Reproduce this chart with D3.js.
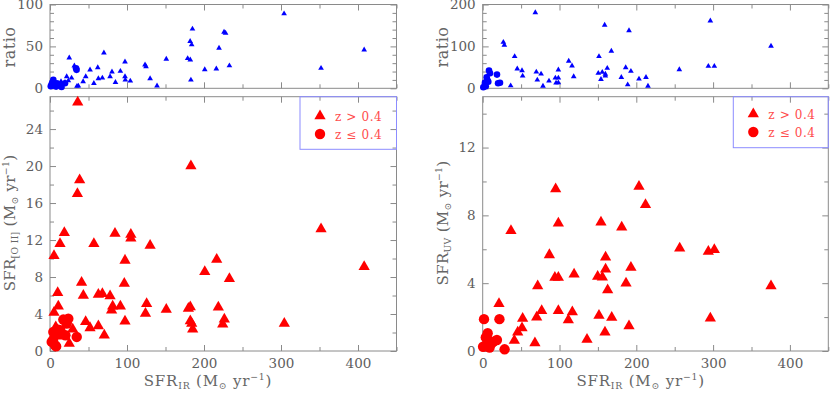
<!DOCTYPE html>
<html>
<head>
<meta charset="utf-8">
<script src="https://cdn.jsdelivr.net/npm/d3@7"></script>
<style>
  body { margin: 0; background: #fff; }
  svg { display: block; font-family: "DejaVu Serif", serif; }
  .tick line { stroke: #8a8a8a; }
  .tick text { fill: #5e5e5e; font-size: 13.5px; font-family: "DejaVu Serif", serif; }
</style>
</head>
<body>
<svg id="chart" width="830" height="393"></svg>
<script>
// --- left panel: SFR[O II] vs SFR_IR ---
const oiiHigh = [
  [36, 26.9], [38.5, 18.5], [35.6, 17], [183, 20],
  [18.6, 12.8], [84.4, 12.7], [105, 12.6], [105, 12.2], [13, 11.6], [57, 11.6], [130, 11.4],
  [5.2, 10.3], [97.4, 9.8], [216.5, 9.9], [352, 13.2], [408, 9.1], [201, 8.56], [233, 7.8],
  [41, 7.4], [96.5, 7.3], [10, 6.3], [43.3, 6.0], [62.8, 6.1], [68, 6.2], [78, 5.95],
  [10.8, 4.85], [81.4, 4.85], [80, 4.4], [91.4, 4.85], [125.5, 5.1], [124, 4.05], [151, 4.5],
  [179.7, 4.6], [182.2, 4.77], [218.6, 4.74], [5.2, 4.16], [182.2, 3.25], [184, 2.97],
  [185.3, 2.35], [226.4, 3.44], [224.3, 2.9], [304.3, 2.97], [97.4, 3.22], [46.3, 3.15],
  [52, 2.5], [62.8, 2.7], [70.5, 1.7], [25, 0.8], [29.5, 2.35], [7.5, 2.6], [12, 1.6]
];
const oiiLow = [
  [4.3, 2.06], [10.8, 2.3], [17.3, 3.4], [23.8, 3.5], [21.7, 2.97], [20, 1.7], [34.7, 1.52],
  [2.2, 0.98], [6.5, 0.62], [13.4, 2.24], [4, 1.2], [8, 0.5]
];
const ratioOiiHigh = [
  [304, 89], [185, 70.8], [226, 67], [228, 66], [182, 56], [184, 52], [219.5, 48], [408, 46],
  [70, 42.4], [25, 36.4], [178.8, 35.6], [182.2, 34], [151, 34.8], [97.4, 31.6], [31.6, 26.8],
  [123.4, 28], [124.7, 26], [233, 27], [352, 24], [201, 22.3], [216, 23.2], [52, 22], [62, 24.7],
  [80.5, 19.6], [91.4, 20.4], [78, 14], [97.4, 14], [97.8, 10], [104.3, 8.8], [62.8, 11.6],
  [68, 12.4], [46.4, 14], [43, 8], [57, 6], [85, 7.2], [130, 11.6], [139, 3], [183, 10],
  [21.7, 14], [28, 12.4], [36.8, 2.8], [35, 2.5], [14.3, 8], [19.5, 7.2], [23.8, 9.1], [10, 5], [5, 4]
];
const ratioOiiLow = [
  [33.8, 24], [34.5, 22], [4.3, 10], [3, 7], [2, 4.5], [1, 2.5], [6, 3], [13, 4], [19.5, 6],
  [9, 6], [8, 2], [15, 1.5]
];

// --- right panel: SFR_UV vs SFR_IR ---
const uvHigh = [
  [95, 9.55], [203.5, 9.7], [212, 8.62], [98.5, 7.54], [154, 7.6], [181, 7.3], [36.8, 7.09],
  [256.5, 6.06], [293.8, 5.87], [301.6, 5.97], [86.8, 5.67], [160, 5.53], [160, 4.82], [193, 4.92],
  [119, 4.53], [94, 4.34], [98.5, 4.34], [149.7, 4.39], [155.8, 4.35], [186.6, 4.0], [162.7, 3.6],
  [71.6, 3.84], [375.4, 3.84], [21.2, 2.78], [76.8, 2.38], [98.5, 2.38], [116.7, 2.3], [70.3, 1.99],
  [52, 1.91], [111.5, 1.83], [151.4, 2.09], [168, 1.97], [296.4, 1.93], [190.5, 1.48], [51.2, 1.35],
  [45.6, 1.1], [159.2, 1.1], [41.2, 0.62], [68, 0.47], [135.8, 0.68]
];
const uvLow = [
  [1.7, 1.88], [21.8, 1.88], [6.5, 1.05], [7, 0.65], [18.5, 0.65], [0.5, 0.25], [11.5, 0.45],
  [28.5, 0.1], [3, 0.3], [14, 0.55], [9, 0.2], [4, 0.8]
];
const ratioUvHigh = [
  [68.5, 180.8], [158.8, 151], [190.5, 137.6], [296.4, 161], [375.4, 100.8], [26.9, 110], [28.2, 103],
  [41.6, 76], [167.5, 88.8], [151.4, 76], [112, 64.8], [116.3, 53.5], [256, 44.7], [293.8, 52.8],
  [301.6, 52.8], [45, 46.3], [51.2, 42.3], [52, 29.5], [69.8, 39], [76, 34.3], [71.1, 20],
  [98.5, 44], [94.6, 24.7], [98.5, 24.7], [95.5, 12.7], [98.5, 13.4], [118.5, 27.9], [86.3, 17.5],
  [78.5, 5.5], [36.4, 6.3], [150.5, 36], [155.7, 38.4], [159.7, 34], [159.7, 29.5], [162.2, 48],
  [154, 21.6], [186.2, 49.5], [193, 40.8], [180.5, 26.4], [203.5, 22.3], [212.6, 26.4],
  [188.8, 8.6], [215.2, 5.5]
];
const ratioUvLow = [
  [8.2, 42.3], [9.5, 36], [18.6, 32.7], [5.2, 26.4], [7.3, 15.8], [22.5, 13.4], [20, 12],
  [3, 14], [0.8, 2.4], [2.8, 8], [6, 20], [4, 5]
];

const legendLabels = ['z > 0.4', 'z \u2264 0.4'];

const svg = d3.select('#chart');
const triMain = d3.symbol().type(d3.symbolTriangle).size(55)();
const triSmall = d3.symbol().type(d3.symbolTriangle).size(14)();

function addAxis(g, axis, pos, vals, len, fmt) {
  g.append('g').attr('transform', pos)
    .call(axis.tickValues(vals).tickSizeInner(-len).tickSizeOuter(0).tickPadding(7).tickFormat(fmt || (() => '')))
    .call(a => a.select('.domain').remove());
}

function frame(g, x, y) {
  g.append('rect')
    .attr('x', x.range()[0]).attr('y', y.range()[1])
    .attr('width', x.range()[1] - x.range()[0]).attr('height', y.range()[0] - y.range()[1])
    .attr('fill', 'none').attr('stroke', '#8a8a8a').attr('stroke-width', 1);
}

function frameTicks(g, x, y, xMajor, xMinor, yMajor, yMinor, xLabels, yFmt) {
  const [x0, x1] = x.range(), [yb, yt] = y.range();
  addAxis(g, d3.axisBottom(x), `translate(0,${yb})`, xMajor, 6, xLabels ? d3.format('d') : null);
  addAxis(g, d3.axisBottom(x), `translate(0,${yb})`, xMinor, 4);
  addAxis(g, d3.axisTop(x), `translate(0,${yt})`, xMajor, 6);
  addAxis(g, d3.axisTop(x), `translate(0,${yt})`, xMinor, 4);
  addAxis(g, d3.axisLeft(y), `translate(${x0},0)`, yMajor, 6, yFmt);
  addAxis(g, d3.axisLeft(y), `translate(${x0},0)`, yMinor, 4);
  addAxis(g, d3.axisRight(y), `translate(${x1},0)`, yMajor, 6);
  addAxis(g, d3.axisRight(y), `translate(${x1},0)`, yMinor, 4);
}

function sfrLabel(sel, sub, fs) {
  const small = fs * 0.62;
  sel.append('tspan').text('SFR');
  sel.append('tspan').attr('font-size', small).attr('dy', 3).text(sub);
  sel.append('tspan').attr('dy', -3).text(' (M');
  sel.append('tspan').attr('font-size', small).attr('dy', 3).text('\u2299');
  sel.append('tspan').attr('dy', -3).text(' yr');
  sel.append('tspan').attr('font-size', small).attr('dy', -6).text('\u22121');
  sel.append('tspan').attr('dy', 6).text(')');
}

function panel(o) {
  const g = svg.append('g');
  const x = d3.scaleLinear().domain([0, 450]).range([o.x0, o.x1]);
  const yr = d3.scaleLinear().domain([0, o.rMax]).range([88.3, 4.5]);
  const ym = d3.scaleLinear().domain([0, o.yMax]).range([351, 96.7]);
  const fmt = d3.format('d');

  // ratio panel
  frameTicks(g, x, yr, d3.range(0, 451, 100), d3.range(50, 451, 100),
    o.rMajor, o.rMinor, false, fmt);
  frame(g, x, yr);
  g.append('g').selectAll('path').data(o.ratioHigh).join('path')
    .attr('d', triSmall).attr('fill', '#0000ff')
    .attr('transform', d => `translate(${x(d[0])},${yr(d[1])})`);
  g.append('g').selectAll('circle').data(o.ratioLow).join('circle')
    .attr('cx', d => x(d[0])).attr('cy', d => yr(d[1])).attr('r', 3.3).attr('fill', '#0000ff');
  g.append('text').attr('transform', `translate(${o.x0 - 35},47) rotate(-90)`)
    .attr('text-anchor', 'middle').attr('font-size', 16).attr('fill', '#666')
    .attr('letter-spacing', 0.5).text('ratio');

  // main panel
  frameTicks(g, x, ym, d3.range(0, 451, 100), d3.range(50, 451, 100),
    o.yMajor, o.yMinor, true, fmt);
  frame(g, x, ym);

  // legend box
  g.append('rect').attr('x', o.legX).attr('y', ym.range()[1])
    .attr('width', o.x1 - o.legX).attr('height', o.legB - ym.range()[1])
    .attr('fill', 'none').attr('stroke', '#8c8cff').attr('stroke-width', 1);

  g.append('g').selectAll('path').data(o.high).join('path')
    .attr('d', triMain).attr('fill', '#ff0000')
    .attr('transform', d => `translate(${x(d[0])},${ym(d[1])})`);
  g.append('g').selectAll('circle').data(o.low).join('circle')
    .attr('cx', d => x(d[0])).attr('cy', d => ym(d[1])).attr('r', 5.2).attr('fill', '#ff0000');

  // legend entries
  const lx = o.legX + 20;
  g.append('path').attr('d', triMain).attr('fill', '#ff0000')
    .attr('transform', `translate(${lx},${o.legY})`);
  g.append('circle').attr('cx', lx).attr('cy', o.legY + 18).attr('r', 5.2).attr('fill', '#ff0000');
  legendLabels.forEach((t, i) => {
    g.append('text').attr('x', lx + 15).attr('y', o.legY + 18 * i + 4.5)
      .attr('font-size', 12).attr('fill', '#ff4d4d').attr('letter-spacing', 0.6).text(t);
  });

  // axis titles
  const xt = g.append('text').attr('x', (o.x0 + 158)).attr('y', 386)
    .attr('text-anchor', 'middle').attr('font-size', 15).attr('fill', '#666').attr('letter-spacing', 0.8);
  sfrLabel(xt, 'IR', 15);
  const yt = g.append('text').attr('transform', `translate(${o.x0 - 35},223) rotate(-90)`)
    .attr('text-anchor', 'middle').attr('font-size', 15).attr('fill', '#666').attr('letter-spacing', 0.3);
  sfrLabel(yt, o.ySub, 15);
}

panel({
  x0: 50, x1: 396.5, rMax: 100, yMax: 27.5,
  rMajor: [0, 50, 100], rMinor: d3.range(10, 100, 10).filter(v => v !== 50),
  yMajor: d3.range(0, 25, 4), yMinor: d3.range(2, 27, 4),
  high: oiiHigh, low: oiiLow, ratioHigh: ratioOiiHigh, ratioLow: ratioOiiLow,
  legX: 300, legB: 149.3, legY: 116, ySub: '[O II]'
});
panel({
  x0: 482.7, x1: 828.3, rMax: 200, yMax: 15,
  rMajor: [0, 100, 200], rMinor: d3.range(20, 200, 20).filter(v => v !== 100),
  yMajor: d3.range(0, 13, 4), yMinor: d3.range(2, 15, 4),
  high: uvHigh, low: uvLow, ratioHigh: ratioUvHigh, ratioLow: ratioUvLow,
  legX: 733.3, legB: 147.7, legY: 114, ySub: 'UV'
});
</script>
</body>
</html>
